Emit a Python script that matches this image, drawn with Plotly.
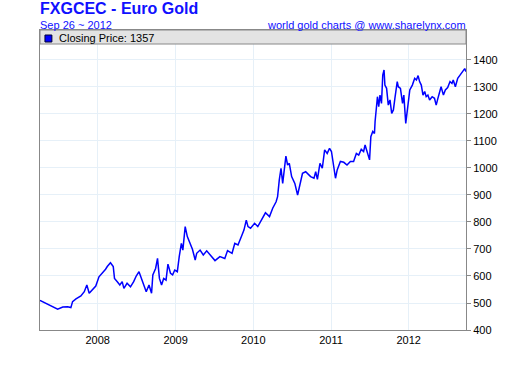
import plotly.graph_objects as go

dates = [
    "2007-04-05", "2007-05-12", "2007-06-04", "2007-06-27", "2007-07-21", "2007-08-13", "2007-08-28",
    "2007-09-05", "2007-09-21", "2007-10-14", "2007-10-30", "2007-11-11", "2007-11-22", "2007-12-07",
    "2007-12-23", "2008-01-07", "2008-01-23", "2008-02-07", "2008-02-15", "2008-03-01", "2008-03-14",
    "2008-03-20", "2008-04-02", "2008-04-14", "2008-04-25", "2008-05-03", "2008-05-18", "2008-06-03",
    "2008-06-18", "2008-06-30", "2008-07-13", "2008-07-28", "2008-08-16", "2008-08-29", "2008-09-10",
    "2008-09-16", "2008-09-29", "2008-10-08", "2008-10-17", "2008-10-27", "2008-11-06", "2008-11-17",
    "2008-11-26", "2008-12-08", "2008-12-18", "2008-12-28", "2009-01-09", "2009-01-18", "2009-01-28",
    "2009-02-04", "2009-02-15", "2009-02-25", "2009-03-03", "2009-03-12", "2009-03-21", "2009-04-03",
    "2009-04-10", "2009-04-26", "2009-05-11", "2009-05-27", "2009-06-19", "2009-07-05", "2009-07-28",
    "2009-08-20", "2009-09-02", "2009-09-23", "2009-10-06", "2009-10-21", "2009-11-06", "2009-11-18",
    "2009-11-29", "2009-12-07", "2009-12-19", "2010-01-07", "2010-01-22", "2010-02-07", "2010-02-27",
    "2010-03-18", "2010-04-02", "2010-04-18", "2010-04-25", "2010-05-03", "2010-05-11", "2010-05-19",
    "2010-05-27", "2010-06-03", "2010-06-11", "2010-06-19", "2010-06-30", "2010-07-15", "2010-07-28",
    "2010-08-09", "2010-08-20", "2010-09-04", "2010-09-12", "2010-09-27", "2010-10-13", "2010-10-21",
    "2010-10-29", "2010-11-10", "2010-11-21", "2010-12-02", "2010-12-14", "2010-12-25", "2011-01-03",
    "2011-01-11", "2011-01-22", "2011-01-30", "2011-02-14", "2011-03-02", "2011-03-17", "2011-04-02",
    "2011-04-17", "2011-04-30", "2011-05-11", "2011-05-23", "2011-06-03", "2011-06-10", "2011-06-21",
    "2011-07-01", "2011-07-07", "2011-07-16", "2011-07-24", "2011-07-27", "2011-08-07", "2011-08-13",
    "2011-08-19", "2011-08-26", "2011-09-01", "2011-09-07", "2011-09-11", "2011-09-19", "2011-09-27",
    "2011-10-05", "2011-10-13", "2011-10-21", "2011-10-28", "2011-11-08", "2011-11-13", "2011-11-23",
    "2011-12-03", "2011-12-09", "2011-12-18", "2011-12-29", "2012-01-06", "2012-01-18", "2012-01-29",
    "2012-02-06", "2012-02-14", "2012-02-21", "2012-02-29", "2012-03-08", "2012-03-16", "2012-03-23",
    "2012-03-31", "2012-04-08", "2012-04-20", "2012-05-01", "2012-05-09", "2012-05-17", "2012-05-28",
    "2012-06-01", "2012-06-12", "2012-06-21", "2012-07-02", "2012-07-13", "2012-07-22", "2012-07-28",
    "2012-08-07", "2012-08-18", "2012-08-29", "2012-09-10", "2012-09-20", "2012-09-26",
]

prices = [
    510, 496, 486, 477, 485, 486, 483,
    505, 515, 526, 542, 567, 536, 548,
    563, 597, 610, 625, 635, 649, 635,
    591, 579, 567, 579, 554, 573, 560,
    579, 600, 616, 585, 542, 567, 536,
    604, 628, 665, 591, 567, 591, 585,
    644, 610, 604, 622, 616, 672, 721,
    696, 783, 746, 733, 715, 699, 659,
    684, 696, 678, 693, 672, 657, 672,
    665, 694, 684, 721, 715, 746, 770,
    807, 783, 777, 795, 783, 807, 834,
    820, 851, 875, 894, 956, 999, 943,
    1005, 1044, 1011, 1017, 968, 943, 900,
    949, 980, 986, 980, 968, 962, 986,
    958, 1017, 999, 1067, 1054, 1073, 1061,
    1024, 962, 993, 1024, 1021, 1011, 1024,
    1024, 1054, 1048, 1069, 1061, 1085, 1054,
    1030, 1116, 1135, 1128, 1172, 1264, 1227,
    1270, 1239, 1344, 1363, 1307, 1295, 1233,
    1252, 1202, 1215, 1258, 1320, 1301, 1295,
    1239, 1270, 1165, 1246, 1289, 1307, 1332,
    1326, 1342, 1320, 1307, 1270, 1283, 1264,
    1270, 1252, 1264, 1258, 1233, 1258, 1295,
    1301, 1270, 1289, 1298, 1320, 1313, 1326,
    1301, 1332, 1344, 1357, 1368, 1357,
]

title_text = "FXGCEC - Euro Gold"
date_text = "Sep 26 ~ 2012"
credit_text = "world gold charts @ www.sharelynx.com"
legend_text = "Closing Price: 1357"

FONT = "Liberation Sans, Arial, sans-serif"
GRID = "#e6f0f8"
AXIS = "#888888"
BLUE_TXT = "#1010ff"

fig = go.Figure()
fig.add_trace(go.Scatter(
    x=dates, y=prices, mode="lines",
    line=dict(color="#0000ff", width=1.5),
    showlegend=False, hoverinfo="skip",
))

fig.update_layout(
    width=510, height=366,
    margin=dict(l=40, r=40, t=30, b=36),
    paper_bgcolor="white", plot_bgcolor="white",
    font=dict(family=FONT, size=11, color="black"),
    showlegend=False,
    xaxis=dict(
        type="date",
        range=["2007-04-05", "2012-09-26"],
        tick0="2008-01-01", dtick="M12", tickformat="%Y",
        showgrid=True, gridcolor=GRID, gridwidth=1,
        showline=True, linecolor=AXIS, linewidth=1, mirror=True,
        ticks="", zeroline=False,
        tickfont=dict(size=11, color="black"),
    ),
    yaxis=dict(
        range=[400, 1511], side="right",
        tickvals=[400, 500, 600, 700, 800, 900, 1000, 1100, 1200, 1300, 1400],
        showgrid=True, gridcolor=GRID, gridwidth=1,
        showline=True, linecolor=AXIS, linewidth=1, mirror=True,
        ticks="outside", ticklen=4, tickcolor=AXIS,
        zeroline=False,
        tickfont=dict(size=11, color="black"),
    ),
)

# legend band
fig.add_shape(type="rect", xref="paper", yref="paper",
              x0=0, x1=1, y0=1 - 14 / 300, y1=1,
              fillcolor="#e3e3e3", line=dict(color=AXIS, width=1), layer="above")
fig.add_shape(type="rect", xref="paper", yref="paper",
              x0=5 / 430, x1=12 / 430, y0=(330 - 42) / 300, y1=(330 - 35) / 300,
              fillcolor="#0000ff", line=dict(color="#000033", width=1), layer="above")
fig.add_annotation(text=legend_text, xref="paper", yref="paper",
                   x=17 / 430, y=(330 - 38) / 300, xanchor="left", yanchor="middle",
                   showarrow=False, font=dict(size=11, color="black", family=FONT))

fig.add_annotation(text="<b>" + title_text + "</b>", xref="paper", yref="paper",
                   x=0, y=(330 - 8.5) / 300, xanchor="left", yanchor="middle",
                   showarrow=False, xshift=-2,
                   font=dict(size=16, color=BLUE_TXT, family=FONT))
fig.add_annotation(text=date_text, xref="paper", yref="paper",
                   x=0, y=(330 - 24.5) / 300, xanchor="left", yanchor="middle",
                   showarrow=False, xshift=-2,
                   font=dict(size=11, color=BLUE_TXT, family=FONT))
fig.add_annotation(text=credit_text, xref="paper", yref="paper",
                   x=1, y=(330 - 24.5) / 300, xanchor="right", yanchor="middle",
                   showarrow=False, xshift=2,
                   font=dict(size=11, color=BLUE_TXT, family=FONT))

fig.write_html("out.html",
               config={"displayModeBar": False, "staticPlot": True},
               post_script="document.body.style.margin='0';document.body.style.overflow='hidden';")
